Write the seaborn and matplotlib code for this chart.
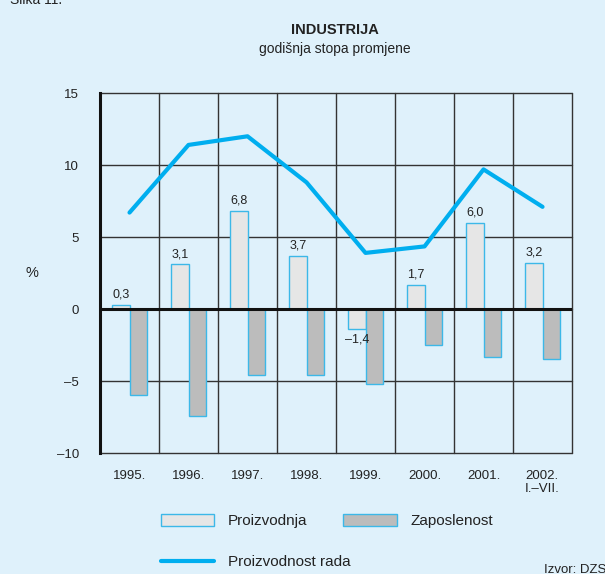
import matplotlib
matplotlib.use('Agg')
import matplotlib.pyplot as plt
import seaborn as sns
import pandas as pd
import numpy as np
from matplotlib.patches import Patch
from matplotlib.lines import Line2D

# data
years = ['1995.', '1996.', '1997.', '1998.', '1999.', '2000.', '2001.', '2002.\nI.–VII.']
proizvodnja = [0.3, 3.1, 6.8, 3.7, -1.4, 1.7, 6.0, 3.2]
zaposlenost = [-6.0, -7.4, -4.6, -4.6, -5.2, -2.5, -3.3, -3.5]
proizvodnost_rada = [6.7, 11.4, 12.0, 8.8, 3.9, 4.35, 9.7, 7.1]
y_ticks = [-10, -5, 0, 5, 10, 15]

BG = '#dff1fb'
CYAN = '#00aeef'
EDGE = '#3cb8e8'
INK = '#222222'

sns.set_style('white')
plt.rcParams['font.family'] = ['Liberation Sans', 'DejaVu Sans']

df = pd.DataFrame({
    'year': years * 2,
    'value': proizvodnja + zaposlenost,
    'series': ['Proizvodnja'] * len(years) + ['Zaposlenost'] * len(years),
})

fig = plt.figure(figsize=(6.05, 5.74), dpi=100, facecolor=BG)
ax = fig.add_axes([0.1653, 0.2108, 0.7802, 0.627])
ax.set_facecolor(BG)

# grid first so bars sit on top
for y in y_ticks:
    ax.axhline(y, color='#333333', lw=1.0, zorder=0, clip_on=False)
for x in np.arange(-0.5, len(years), 1.0):
    ax.axvline(x, color='#333333', lw=1.0, zorder=0, clip_on=False)

sns.barplot(data=df, x='year', y='value', hue='series', order=years,
            palette={'Proizvodnja': '#e6e6e6', 'Zaposlenost': '#bcbcbc'},
            width=0.58, gap=0, edgecolor=EDGE, linewidth=1.0,
            saturation=1, legend=False, ax=ax, zorder=2)

labels = [f'{v:.1f}'.replace('.', ',').replace('-', '–') for v in proizvodnja]
ax.bar_label(ax.containers[0], labels=labels, padding=3, fontsize=9, color=INK)

sns.lineplot(x=np.arange(len(years)), y=proizvodnost_rada, color=CYAN,
             lw=3, ax=ax, zorder=3)

ax.axhline(0, color='#111111', lw=2.2, zorder=4)

ax.set_xlim(-0.5, len(years) - 0.5)
ax.set_ylim(-10, 15)
ax.set_yticks(y_ticks)
ax.set_yticklabels([f'{t}' if t >= 0 else f'–{abs(t)}' for t in y_ticks])
ax.set_xticks(range(len(years)))
ax.set_xticklabels(years, fontsize=9.5, color=INK, linespacing=1.1, va='top')
for lab in ax.get_xticklabels():
    lab.set_multialignment('left')
ax.set_xticks(np.arange(-0.5, len(years), 1.0), minor=True)
ax.tick_params(axis='x', which='major', length=0, pad=12)
ax.tick_params(axis='x', which='minor', length=9, width=1, color='#333333', direction='out')
ax.tick_params(axis='y', length=8, width=1, color='#333333', labelsize=9.5,
               labelcolor=INK, pad=7, direction='out')
ax.set_xlabel('')
ax.set_ylabel('')
fig.text(32 / 605, 1 - 273 / 574, '%', ha='center', va='center', fontsize=10.5, color=INK)

for side in ['top', 'right', 'bottom']:
    ax.spines[side].set_visible(False)
ax.spines['left'].set_linewidth(2.2)
ax.spines['left'].set_color('#111111')

fig.text(0.553, 0.94, 'INDUSTRIJA', ha='center', fontsize=10.5, fontweight='bold', color=INK)
fig.text(0.553, 0.908, 'godišnja stopa promjene', ha='center', fontsize=10, color=INK)
fig.text(0.016, 0.993, 'Slika 11.', ha='left', va='baseline', fontsize=10, color=INK)
fig.text(0.899, 0.001, 'Izvor: DZS', ha='left', va='baseline', fontsize=9.5, color=INK)

handles = [
    Patch(facecolor='#e6e6e6', edgecolor=EDGE, lw=1),
    Patch(facecolor='#bcbcbc', edgecolor=EDGE, lw=1),
]
leg1 = fig.legend(handles, ['Proizvodnja', 'Zaposlenost'], ncol=2, loc='lower left',
                  bbox_to_anchor=(0.243, 0.056), frameon=False, fontsize=11,
                  handlelength=3.5, handleheight=0.85, handletextpad=0.9,
                  columnspacing=2.35)
for t in leg1.get_texts():
    t.set_color(INK)
leg2 = fig.legend([Line2D([0], [0], color=CYAN, lw=3)], ['Proizvodnost rada'],
                  loc='lower left', bbox_to_anchor=(0.243, -0.016), frameon=False,
                  fontsize=11, handlelength=3.5, handletextpad=0.9)
for t in leg2.get_texts():
    t.set_color(INK)

fig.savefig('out.png', dpi=100, facecolor=BG)
